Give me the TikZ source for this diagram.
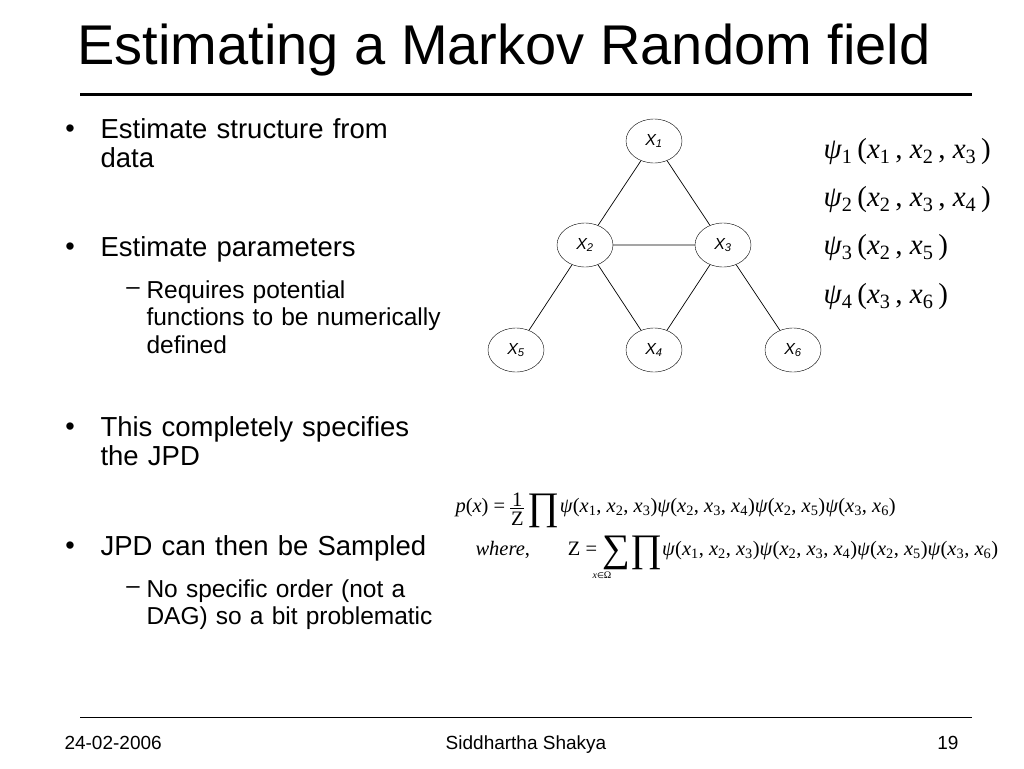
\documentclass[tikz,border=0pt]{standalone}
\usepackage{fontspec}
\setmainfont{Liberation Sans}
\newfontfamily\tms{Liberation Serif}
\newfontfamily\dvs{DejaVu Sans}
\usetikzlibrary{shapes.geometric}
\newcommand{\ps}[1]{\textit{ψ}\textsubscript{#1}}
\newcommand{\xv}[1]{\textit{x}\textsubscript{#1}}
\newcommand{\bigop}[1]{\raisebox{-0.25\height}{\scalebox{1.9}{#1}}}
\begin{document}
\begin{tikzpicture}[x=1pt,y=-1pt,
  rv/.style={draw,ellipse,minimum width=56pt,minimum height=44pt,inner sep=0pt,font=\fontsize{16}{18}\selectfont\itshape},
  edge/.style={line width=0.7pt},
  txt/.style={anchor=west,font=\fontsize{27.5}{29}\selectfont,align=left,text width=420pt},
  sub/.style={anchor=west,font=\fontsize{24.5}{27.5}\selectfont,align=left,text width=400pt},
  psi/.style={anchor=west,font=\tms\fontsize{29}{32}\selectfont},
  eq/.style={anchor=west,font=\tms\fontsize{20.5}{23}\selectfont},
  foot/.style={anchor=base,font=\fontsize{19}{21}\selectfont}]
\useasboundingbox (0,0) rectangle (1024,768);
\node[anchor=west,font=\fontsize{56}{60}\selectfont] (title) at (74,50) {Estimating a Markov Random field};
\draw[line width=3pt] (80,94) -- (972,94);
\draw[line width=1pt] (80,717) -- (972,717);
\node[foot,anchor=base west] (d) at (61,749) {24-02-2006};
\node[foot] (a) at (526,749) {Siddhartha Shakya};
\node[foot,anchor=base east] (p) at (962,749) {19};
% bullets
\foreach \y in {131,249,429,548} \node[font=\fontsize{27}{29}\selectfont] at (70,\y) {•};
\foreach \y in {291,590} \node[font=\fontsize{24}{27}\selectfont] at (133,\y) {–};
\node[txt,anchor=north west] (b1) at (97,115) {Estimate structure from\\data};
\node[txt] (b2) at (97,249) {Estimate parameters};
\node[sub,anchor=north west] (s1) at (143,277) {Requires potential\\functions to be numerically\\defined};
\node[txt,anchor=north west] (b3) at (97,413) {This completely specifies\\the JPD};
\node[txt] (b4) at (97,548) {JPD can then be Sampled};
\node[sub,anchor=north west] (s2) at (143,576) {No specific order (not a\\DAG) so a bit problematic};
% graph
\node[rv] (x1) at (654,141) {X\textsubscript{1}};
\node[rv] (x2) at (585,245) {X\textsubscript{2}};
\node[rv] (x3) at (723,245) {X\textsubscript{3}};
\node[rv] (x5) at (516,350) {X\textsubscript{5}};
\node[rv] (x4) at (654,350) {X\textsubscript{4}};
\node[rv] (x6) at (793,350) {X\textsubscript{6}};
\draw[edge] (x1)--(x2) (x1)--(x3) (x2)--(x3) (x2)--(x5) (x2)--(x4) (x3)--(x4) (x3)--(x6);
% potentials
\node[psi] (p1) at (820,152) {\ps{1}\,(\xv{1}\,, \xv{2}\,, \xv{3}\,)};
\node[psi] (p2) at (820,200) {\ps{2}\,(\xv{2}\,, \xv{3}\,, \xv{4}\,)};
\node[psi] (p3) at (820,248) {\ps{3}\,(\xv{2}\,, \xv{5}\,)};
\node[psi] (p4) at (820,297) {\ps{4}\,(\xv{3}\,, \xv{6}\,)};
% joint
\node[eq] (e1) at (452,510) {\textit{p}(\textit{x}) = \raisebox{-0.38\height}{\shortstack{1\\[-1pt]\rule{14pt}{0.6pt}\\Z}}\,\bigop{∏}\textit{ψ}(\xv{1}, \xv{2}, \xv{3})\textit{ψ}(\xv{2}, \xv{3}, \xv{4})\textit{ψ}(\xv{2}, \xv{5})\textit{ψ}(\xv{3}, \xv{6})};
\node[eq] (e2) at (472,553) {\textit{where},\hspace{38pt}Z = \bigop{∑}\bigop{∏}\textit{ψ}(\xv{1}, \xv{2}, \xv{3})\textit{ψ}(\xv{2}, \xv{3}, \xv{4})\textit{ψ}(\xv{2}, \xv{5})\textit{ψ}(\xv{3}, \xv{6})};
\node[font=\fontsize{10}{12}\selectfont] (om) at (602,575) {{\tms\itshape x}{\dvs\fontsize{8}{10}\selectfont ∈}{\tms Ω}};
\end{tikzpicture}
\end{document}
